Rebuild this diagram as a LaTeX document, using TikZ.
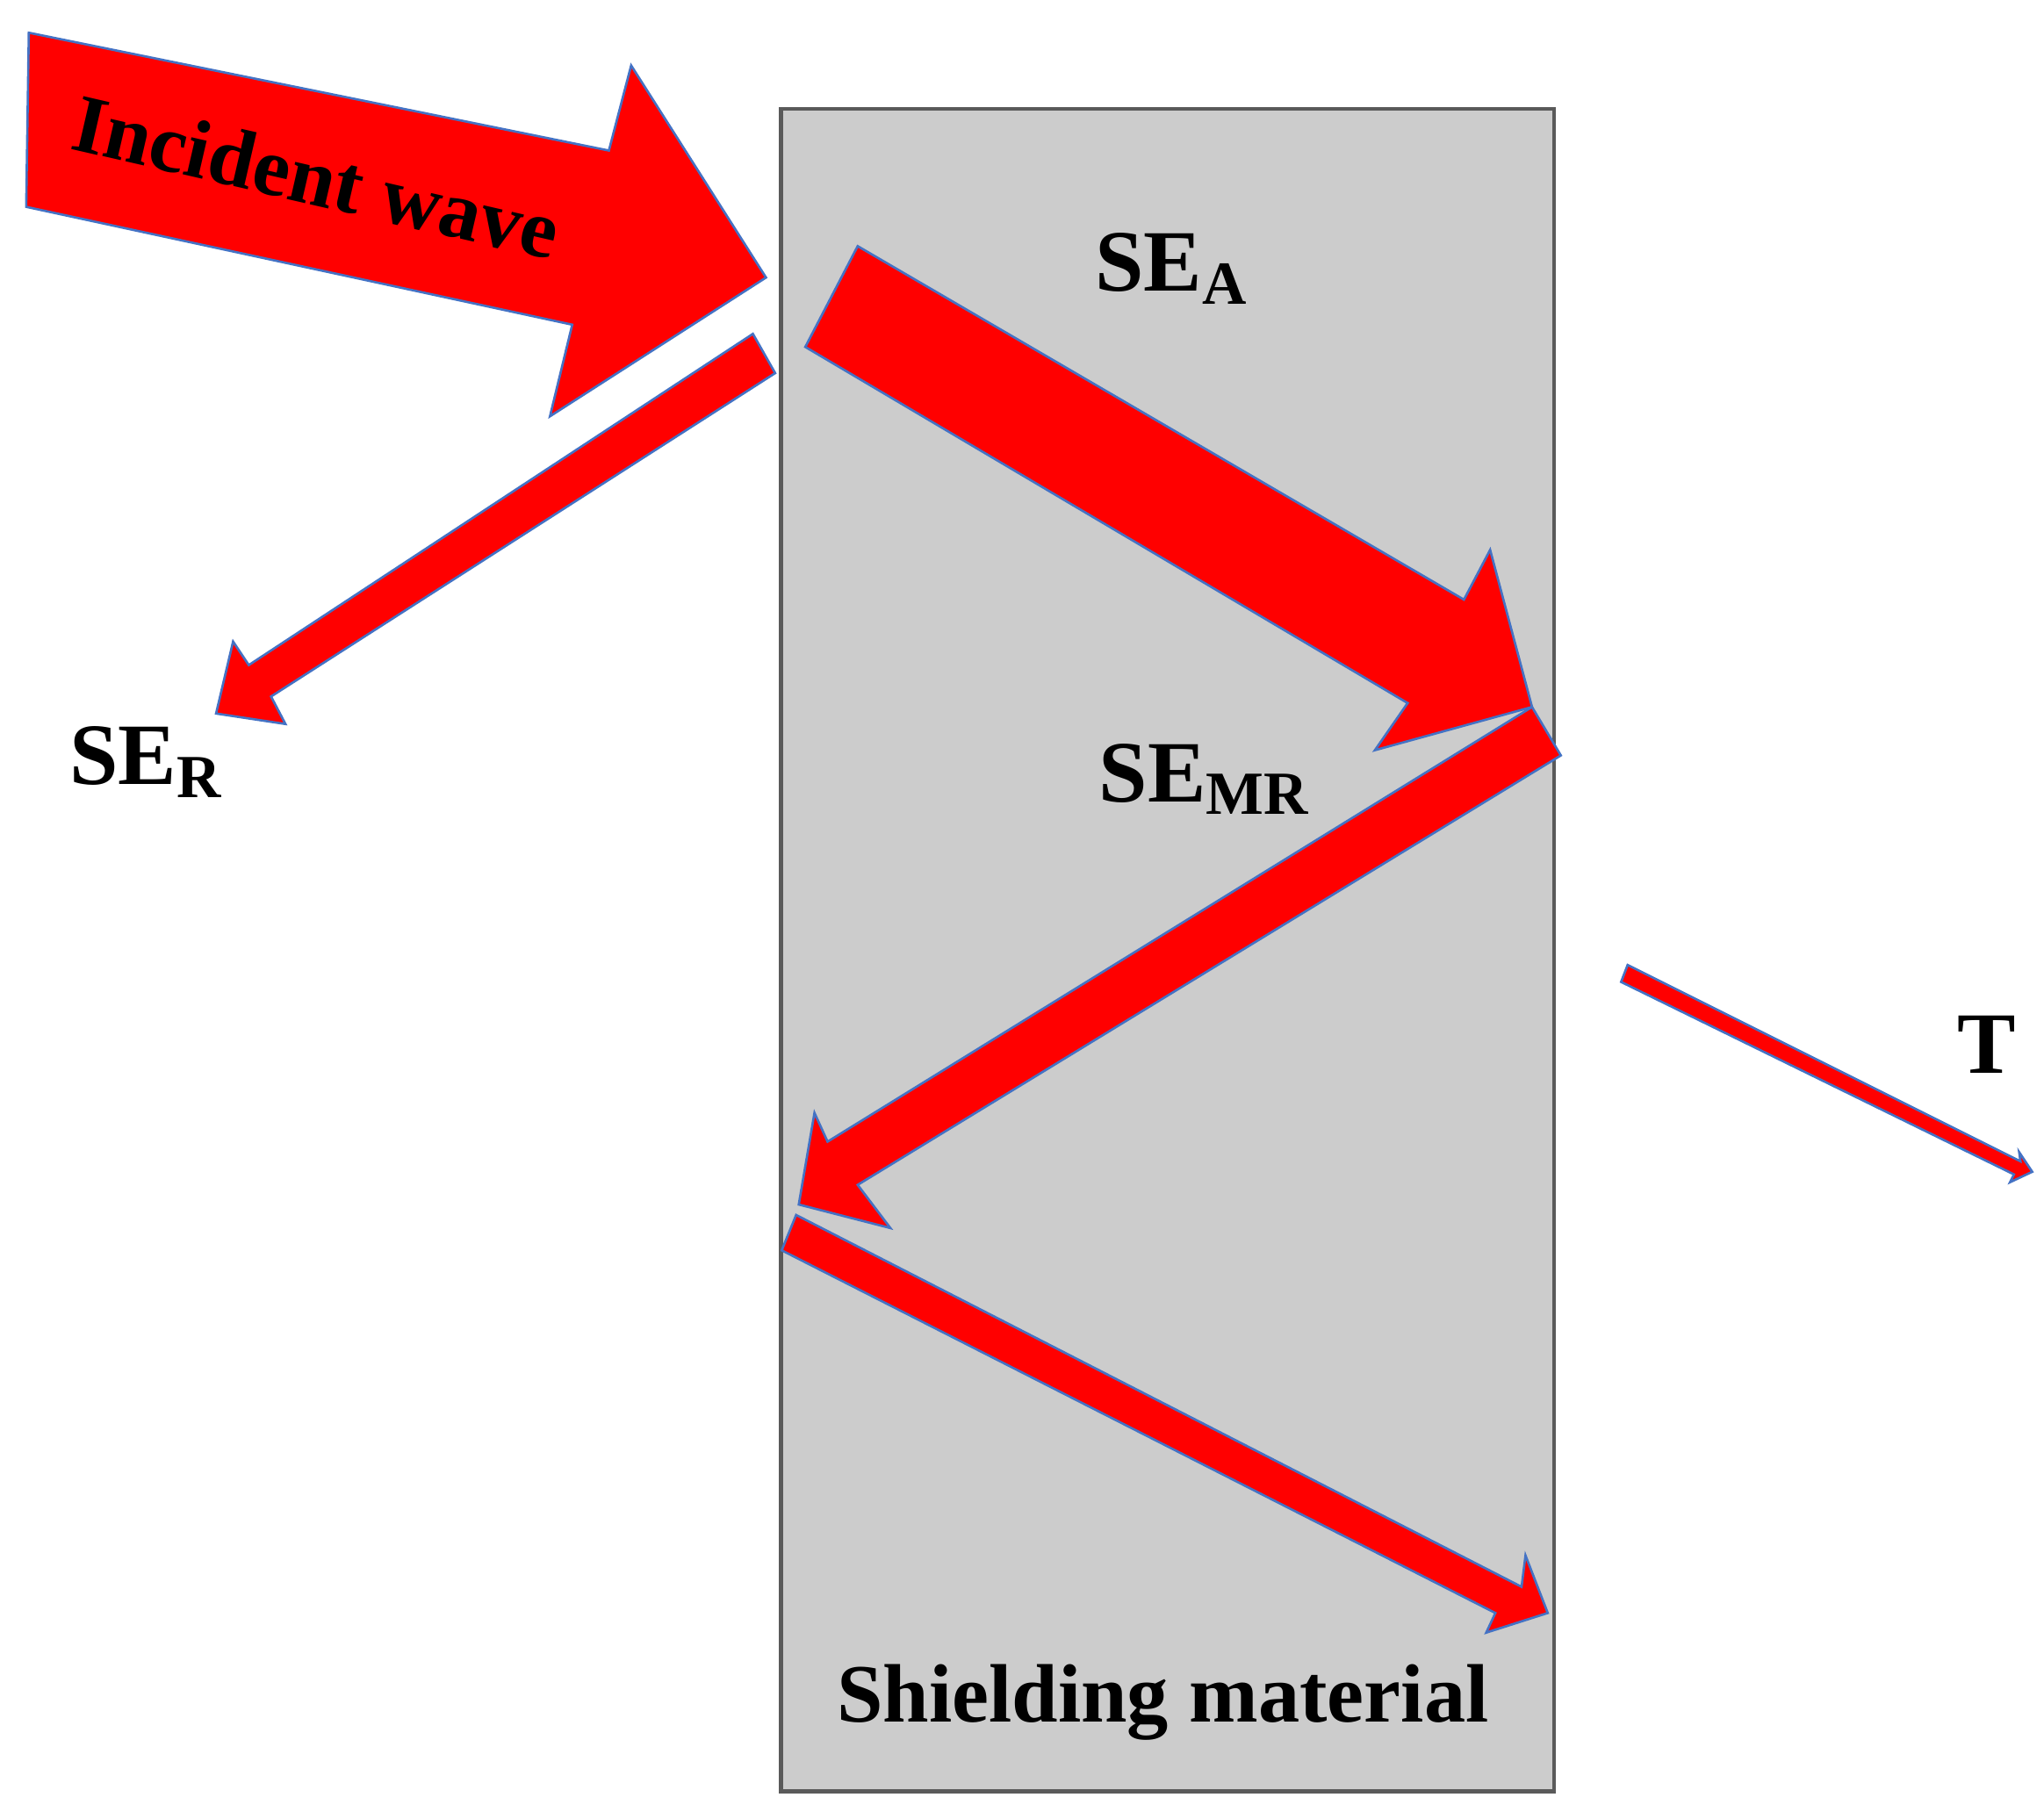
\documentclass[tikz,border=0pt]{standalone}
\usepackage{fontspec}
\setmainfont{Liberation Serif}
\begin{document}
\begin{tikzpicture}[x=0.01cm,y=-0.01cm,
  wave/.style={fill=red,draw={rgb,255:red,68;green,114;blue,196},line width=0.5pt,line join=miter},
  lab/.style={font=\bfseries\fontsize{19}{22}\selectfont,inner sep=0pt}]
\useasboundingbox (0,0) rectangle (1561,1389);
\node[draw={rgb,255:red,90;green,90;blue,90},fill={rgb,255:red,204;green,204;blue,204},line width=0.8pt,
  minimum width=5.90cm,minimum height=12.84cm,inner sep=0pt,anchor=north west] (box) at (595,82) {};
% incident
\draw[wave] (22,25) -- (465,115) -- (482,50) -- (585,212) -- (420,318) -- (437,248) -- (20,158) -- cycle;
% SE_R
\draw[wave] (575,255) -- (592,285) -- (207,532) -- (218,553) -- (165,545) -- (178,490) -- (190,508) -- cycle;
% SE_A
\draw[wave] (655,188) -- (1118,458) -- (1138,420) -- (1170,540) -- (1050,573) -- (1075,537) -- (615,265) -- cycle;
% SE_MR
\draw[wave] (1170,540) -- (1192,577) -- (655,905) -- (680,938) -- (610,920) -- (622,850) -- (632,872) -- cycle;
% bottom
\draw[wave] (608,928) -- (1162,1212) -- (1165,1188) -- (1182,1232) -- (1135,1247) -- (1142,1232) -- (597,955) -- cycle;
% T
\draw[wave] (1243,737) -- (1543,887) -- (1542,880) -- (1552,895) -- (1535,903) -- (1538,897) -- (1238,750) -- cycle;
\node[lab,rotate=-13,font=\bfseries\fontsize{18}{20}\selectfont] (inc) at (242,135) {Incident wave};
\node[lab] (sea) at (895,205) {SE\textsubscript{A}};
\node[lab] (ser) at (112,582) {SE\textsubscript{R}};
\node[lab] (semr) at (920,595) {SE\textsubscript{MR}};
\node[lab] (t) at (1517,798) {T};
\node[lab,font=\bfseries\fontsize{18}{21}\selectfont] (sm) at (888,1300) {Shielding material};
\end{tikzpicture}
\end{document}
